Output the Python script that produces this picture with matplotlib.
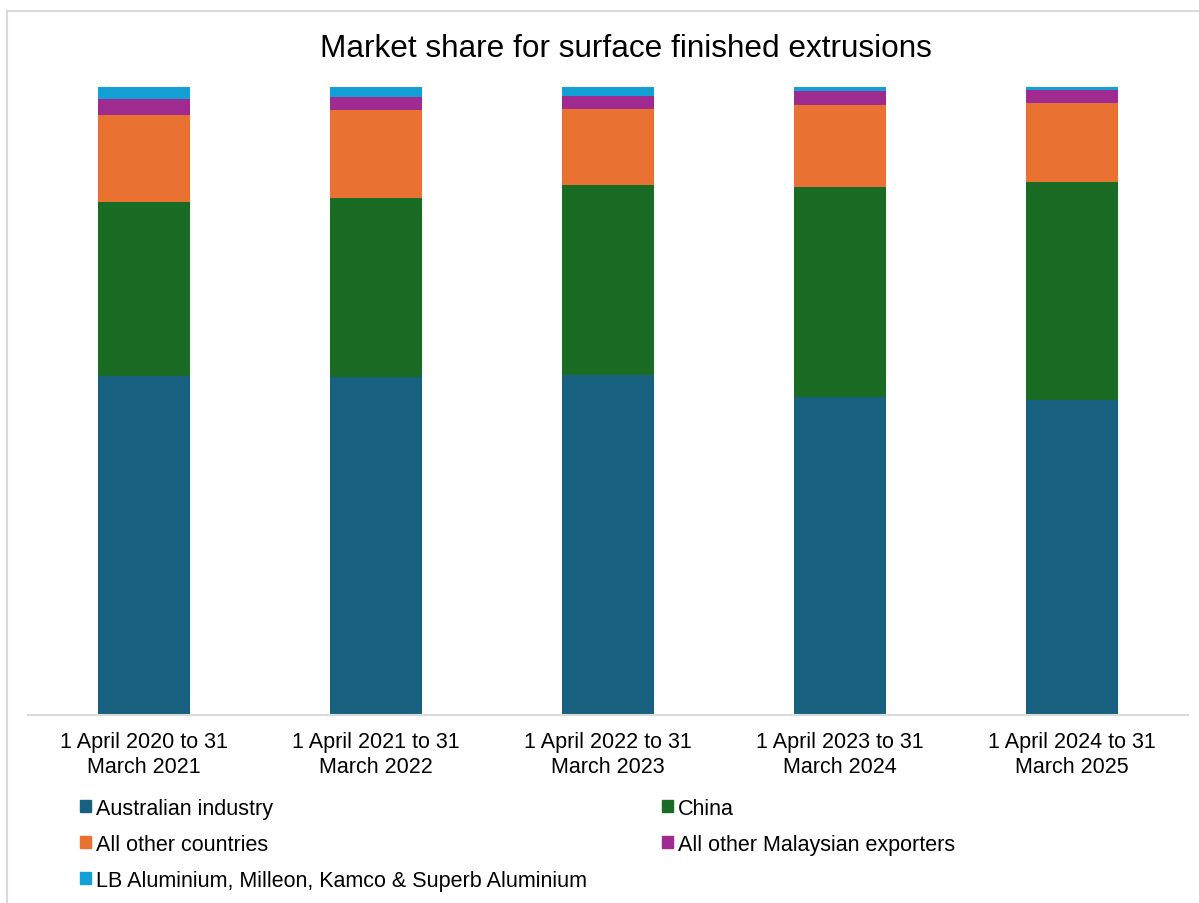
import matplotlib
matplotlib.use('Agg')

import matplotlib.pyplot as plt
import matplotlib.patches as mpatches
from matplotlib.lines import Line2D
import numpy as np

plt.rcParams['font.family'] = ['Liberation Sans', 'DejaVu Sans']

# ==================== DATA ====================
periods = [
    '1 April 2020 to 31\nMarch 2021',
    '1 April 2021 to 31\nMarch 2022',
    '1 April 2022 to 31\nMarch 2023',
    '1 April 2023 to 31\nMarch 2024',
    '1 April 2024 to 31\nMarch 2025',
]
australian_industry = [54.0, 53.8, 54.2, 50.6, 50.1]
china = [27.7, 28.5, 30.2, 33.5, 34.8]
all_other_countries = [13.9, 14.1, 12.2, 13.0, 12.6]
other_malaysian = [2.55, 2.05, 2.0, 2.3, 2.0]
lb_group = [1.85, 1.55, 1.4, 0.6, 0.5]

series = [
    ('Australian industry', australian_industry, '#17607F'),
    ('China', china, '#1A6B24'),
    ('All other countries', all_other_countries, '#E97232'),
    ('All other Malaysian exporters', other_malaysian, '#A02B90'),
    ('LB Aluminium, Milleon, Kamco & Superb Aluminium', lb_group, '#12A0D7'),
]

# ==================== FIGURE ====================
W, H = 1199, 904
fig = plt.figure(figsize=(W / 100, H / 100), dpi=100)
fig.patch.set_facecolor('white')

# outer chart frame (left and top edges visible)
frame_col = '#D9D9D9'
fig.add_artist(Line2D([6.5 / W, 6.5 / W], [0, 1 - 12 / H], transform=fig.transFigure,
                      color=frame_col, linewidth=1.5))
fig.add_artist(Line2D([6.5 / W, 1], [1 - 12 / H, 1 - 12 / H], transform=fig.transFigure,
                      color=frame_col, linewidth=1.5))

ax = fig.add_axes([28 / W, 1 - 715.5 / H, 1160 / W, (715.5 - 88.3) / H])
x = np.arange(len(periods))
bottom = np.zeros(len(periods))
handles = {}
for name, vals, col in series:
    ax.bar(x, vals, width=0.4, bottom=bottom, color=col, label=name)
    handles[name] = mpatches.Patch(color=col)
    bottom += np.array(vals)

ax.set_xlim(-0.5, len(periods) - 0.5)
ax.set_ylim(0, 100)
ax.set_yticks([])
ax.set_xticks(x)
ax.set_xticklabels(periods, fontsize=15.5, linespacing=1.22)
ax.tick_params(axis='x', length=0, pad=12)
for side in ['top', 'right', 'left']:
    ax.spines[side].set_visible(False)
ax.spines['bottom'].set_color(frame_col)
ax.spines['bottom'].set_linewidth(1.5)

fig.text(626 / W, 1 - 49 / H, 'Market share for surface finished extrusions',
         fontsize=22.7, ha='center', va='center')

# legend laid out row-wise: matplotlib fills columns first, so reorder
order = [0, 2, 4, 1, 3]
names = [series[i][0] for i in order]
fig.legend([handles[n] for n in names], names,
           loc='upper left', bbox_to_anchor=(80 / W, 1 - 799 / H),
           ncol=2, frameon=False, fontsize=15.5,
           handlelength=0.5, handleheight=0.5, handletextpad=0.25,
           columnspacing=3.47, labelspacing=0.69, borderaxespad=0, borderpad=0)

plt.savefig('out.png', dpi=100, facecolor='white')
plt.close()
